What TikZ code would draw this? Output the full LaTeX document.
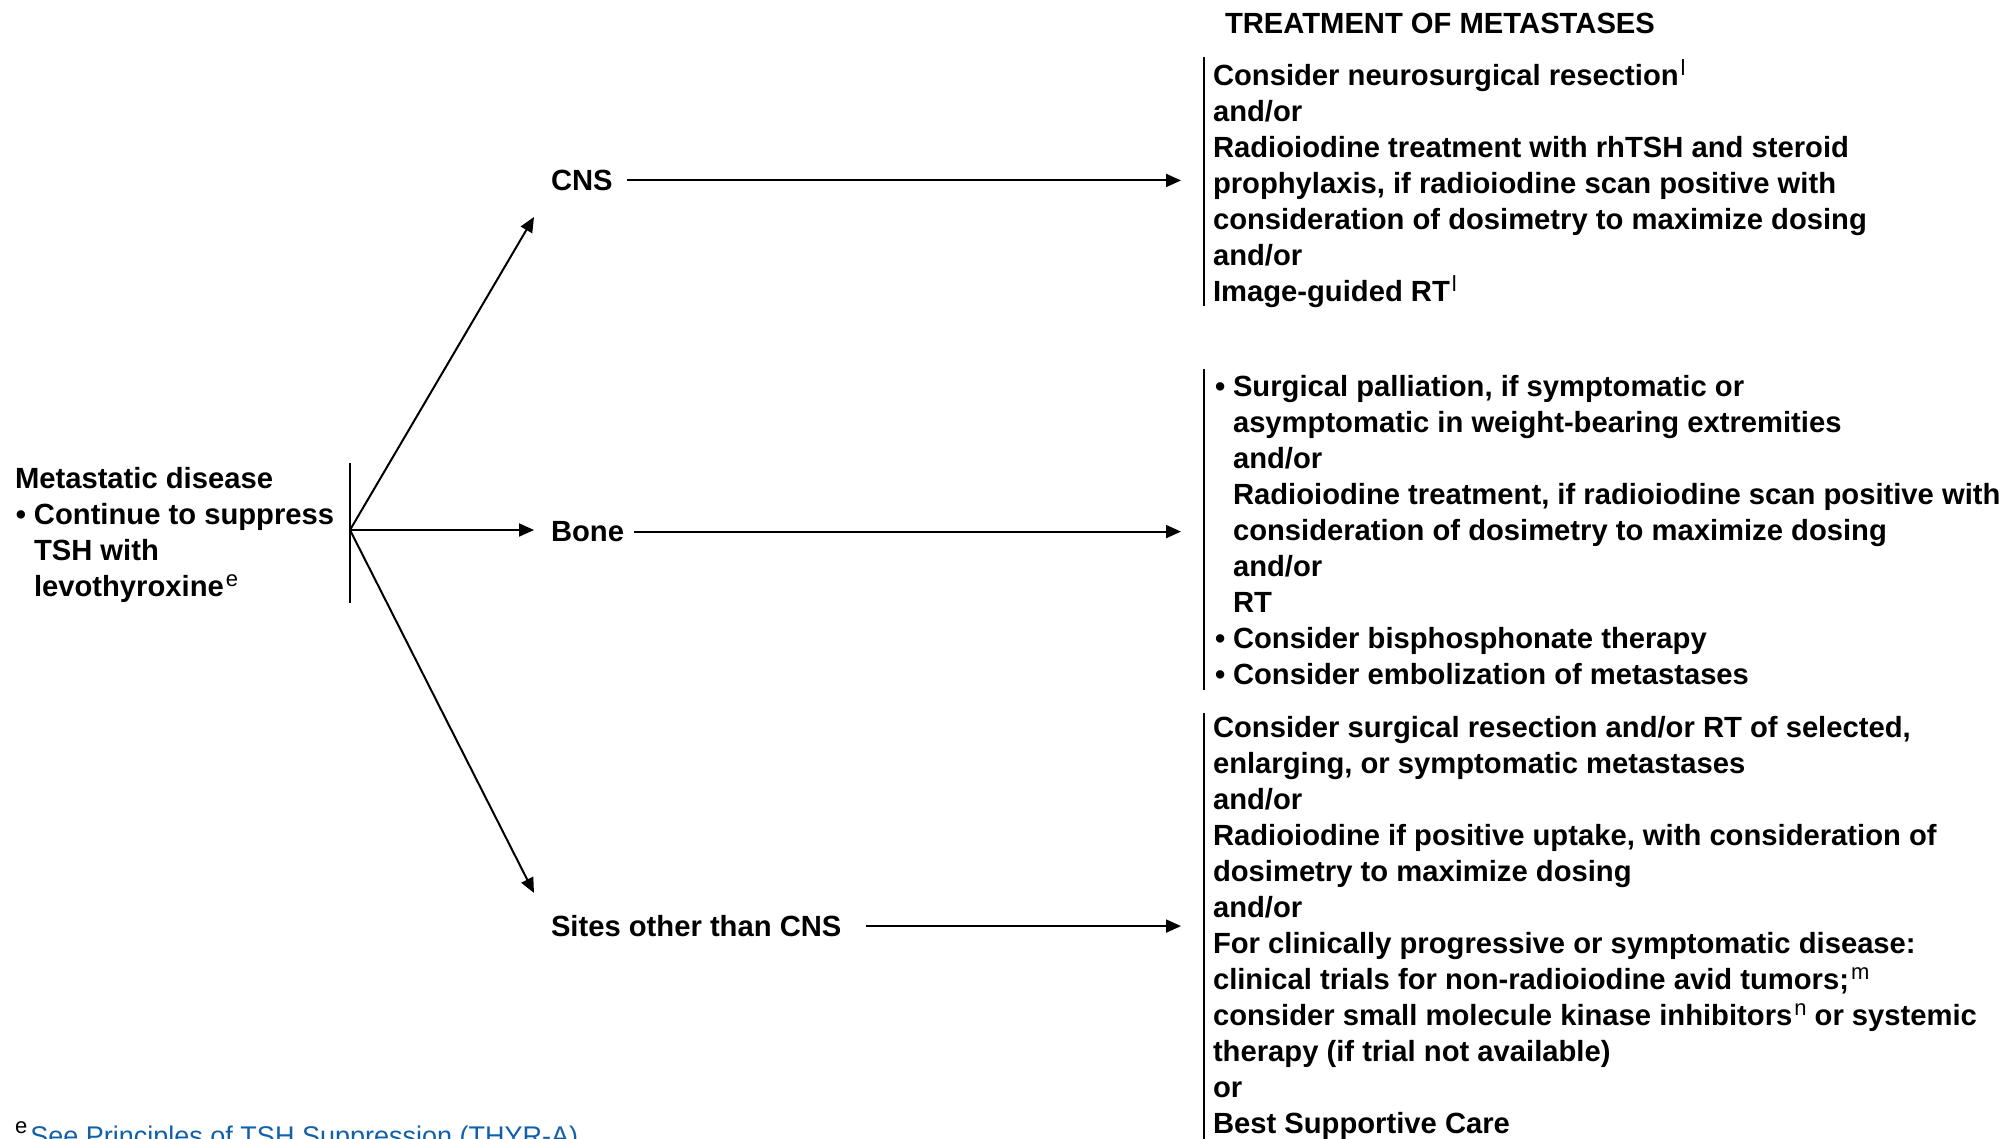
\documentclass[tikz,border=0pt]{standalone}
\usepackage{fontspec}
\setmainfont{Liberation Sans}
\usetikzlibrary{arrows.meta}
\definecolor{linkblue}{RGB}{16,96,170}
% bullet with hanging indent, continuation indent, footnote marks
\newcommand\bul{\makebox[19pt][l]{\kern1pt\textbullet}}
\newcommand\ind{\hspace*{19pt}}
\newcommand\sups[1]{\kern2pt\raisebox{10pt}{\fontsize{22}{22}\selectfont\mdseries #1}}
\newcommand\firstline{\rule{0pt}{24pt}}
\begin{document}
\begin{tikzpicture}[x=1pt,y=-1pt,
  txt/.style={inner sep=0pt,outer sep=0pt,font=\bfseries\fontsize{29.2}{36}\selectfont},
  blk/.style={txt,align=left,anchor=north west},
  bar/.style={line width=2pt},
  arr/.style={line width=2pt,-{Triangle[length=15pt,width=13pt]}}]

\fill[white] (0,0) rectangle (2009,1139);
\useasboundingbox (0,0) rectangle (2009,1139);

% left: starting situation
\node[blk] (meta) at (15,464.5) {\firstline Metastatic disease\\
\bul Continue to suppress\\
\ind TSH with\\
\ind levothyroxine\sups{e}};
\coordinate (lbarT) at (350,463);
\coordinate (lbarB) at (350,603);
\draw[bar] (lbarT) -- (lbarB);
\coordinate (split) at (350,530);

% sites of metastases
\node[txt,anchor=base west] (cns) at (551,190.5) {CNS};
\node[txt,anchor=base west] (bone) at (551,541.5) {Bone};
\node[txt,anchor=base west] (sites) at (551,936.5) {Sites other than CNS};

\coordinate (cnsIn) at (534,217);
\coordinate (boneIn) at (534,530);
\coordinate (sitesIn) at (534,893);
\draw[arr] (split) -- (cnsIn);
\draw[arr] (split) -- (boneIn);
\draw[arr] (split) -- (sitesIn);

% arrows to the treatment column
\coordinate (tipx) at (1181,0);
\draw[arr] ([xshift=14pt]cns.east) -- (cns.east -| tipx);
\draw[arr] ([xshift=9.5pt]bone.east) -- (bone.east -| tipx);
\draw[arr] ([xshift=24.6pt]sites.east) -- (sites.east -| tipx);

% treatment column
\node[txt,anchor=base west] (head) at (1225,33.5) {TREATMENT OF METASTASES};

\draw[bar] (1204,57) coordinate (cbarT) -- (1204,306) coordinate (cbarB);
\node[blk] (cnsTx) at (1213,59.5) {\firstline Consider neurosurgical resection\sups{l}\\
and/or\\
Radioiodine treatment with rhTSH and steroid\\
prophylaxis, if radioiodine scan positive with\\
consideration of dosimetry to maximize dosing\\
and/or\\
Image-guided RT\sups{l}};

\draw[bar] (1204,369) coordinate (bbarT) -- (1204,690) coordinate (bbarB);
\node[blk] (boneTx) at (1214,372.5) {\firstline\bul Surgical palliation, if symptomatic or\\
\ind asymptomatic in weight-bearing extremities\\
\ind and/or\\
\ind Radioiodine treatment, if radioiodine scan positive with\\
\ind consideration of dosimetry to maximize dosing\\
\ind and/or\\
\ind RT\\
\bul Consider bisphosphonate therapy\\
\bul Consider embolization of metastases};

\draw[bar] (1204,713) coordinate (sbarT) -- (1204,1139) coordinate (sbarB);
\node[blk] (sitesTx) at (1213,713.5) {\firstline Consider surgical resection and/or RT of selected,\\
enlarging, or symptomatic metastases\\
and/or\\
Radioiodine if positive uptake, with consideration of\\
dosimetry to maximize dosing\\
and/or\\
For clinically progressive or symptomatic disease:\\
clinical trials for non-radioiodine avid tumors;\sups{m}\\
consider small molecule kinase inhibitors\sups{n} or systemic\\
therapy (if trial not available)\\
or\\
Best Supportive Care};

% footnote
\node[inner sep=0pt,anchor=base west,font=\fontsize{27}{30}\selectfont] (fnote) at (15,1145)
  {\raisebox{12pt}{\fontsize{22}{22}\selectfont e}\kern3pt\textcolor{linkblue}{See Principles of TSH Suppression (THYR-A)}};
\end{tikzpicture}
\end{document}
